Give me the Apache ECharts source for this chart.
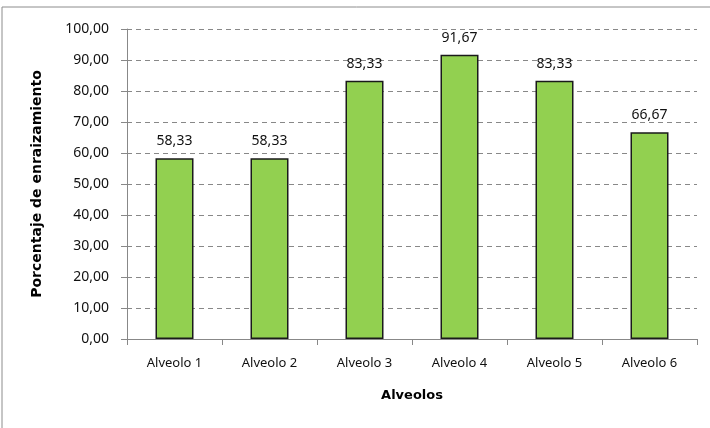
<!DOCTYPE html>
<html><head><meta charset="utf-8">
<script src="https://cdn.jsdelivr.net/npm/echarts@6/dist/echarts.min.js"></script>
<style>html,body{margin:0;padding:0;background:#fff}#c{width:710px;height:428px}</style>
</head><body><div id="c"></div>
<script>
var categories = ['Alveolo 1','Alveolo 2','Alveolo 3','Alveolo 4','Alveolo 5','Alveolo 6'];
var values = [58.33, 58.33, 83.33, 91.67, 83.33, 66.67];
var yTicks = [0,10,20,30,40,50,60,70,80,90,100];
var fmt = function(v){ return Number(v).toFixed(2).replace('.', ','); };
var chart = echarts.init(document.getElementById('c'));
var F = 'Noto Sans';
var FB = 'DejaVu Sans';
chart.setOption({
  animation:false,
  backgroundColor:'#fff',
  graphic:[{type:'rect',shape:{x:2,y:7,width:720,height:440},style:{fill:'none',stroke:'#8c8c8c',lineWidth:1},silent:true}],
  grid:{left:127,right:13,top:29,bottom:89,containLabel:false},
  xAxis:{type:'category',data:categories,
    name:'Alveolos',nameLocation:'middle',nameGap:50,
    nameTextStyle:{fontFamily:FB,fontSize:13,fontWeight:'bold',color:'#000'},
    axisLine:{lineStyle:{color:'#888',width:1}},
    axisTick:{show:true,alignWithLabel:false,length:6,lineStyle:{color:'#888'}},
    axisLabel:{fontFamily:F,fontSize:13,color:'#111',margin:18}
  },
  yAxis:{type:'value',min:yTicks[0],max:yTicks[yTicks.length-1],interval:10,
    name:'Porcentaje de enraizamiento',nameLocation:'middle',nameGap:83,
    nameTextStyle:{fontFamily:FB,fontSize:14,fontWeight:'bold',color:'#000'},
    axisLine:{show:true,lineStyle:{color:'#888',width:1}},
    axisTick:{show:true,inside:false,length:6,lineStyle:{color:'#888'}},
    axisLabel:{fontFamily:F,fontSize:14,color:'#111',margin:18,formatter:fmt},
    splitLine:{show:true,lineStyle:{color:'#888',type:[5,4],width:1}}
  },
  series:[{type:'bar',data:values,barWidth:'40%',
    itemStyle:{color:'#92D050',borderColor:'#1a1a1a',borderWidth:1.5},
    label:{show:true,position:'top',distance:10,fontFamily:F,fontSize:14,color:'#111',formatter:function(p){return fmt(p.value);}}
  }]
});
</script></body></html>
